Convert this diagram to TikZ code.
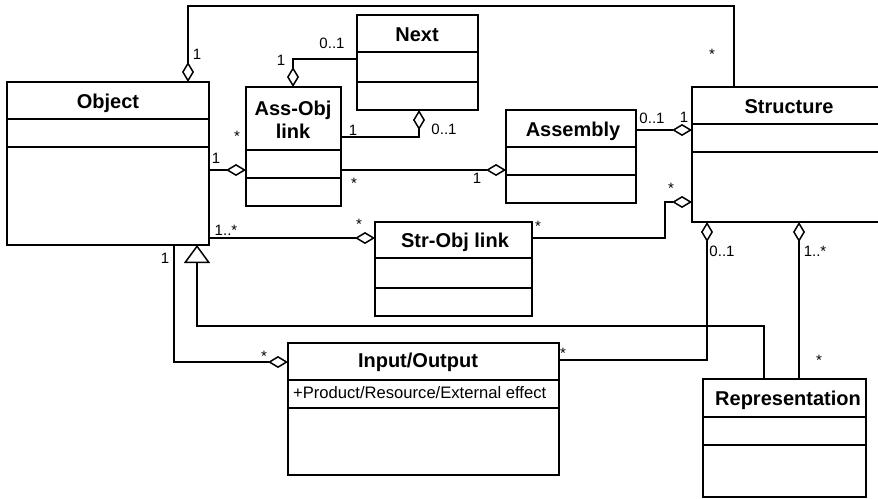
\documentclass[tikz,border=0pt]{standalone}
\usepackage{fontspec}
\setmainfont{Liberation Sans}
\usetikzlibrary{arrows.meta}
\newcommand\sepat[2]{\draw[sep] ([yshift=-#2pt]#1.north west) -- ([yshift=-#2pt]#1.north east);}
\begin{document}
\begin{tikzpicture}[x=1pt,y=-1pt,
  box/.style={draw, line width=1.8pt, inner sep=0pt, outer sep=0pt, anchor=north west},
  sep/.style={line width=1.3pt},
  title/.style={font=\fontsize{20}{23}\selectfont\bfseries, inner sep=0pt},
  lbl/.style={font=\fontsize{15}{17}\selectfont, inner sep=0pt},
  attr/.style={font=\fontsize{16.6}{19}\selectfont, inner sep=0pt, anchor=west},
  con/.style={line width=1.5pt},
  agg/.style={con, -{Diamond[open, length=20pt, width=12pt, line width=1.5pt]}},
  gen/.style={con, -{Triangle[open, length=18pt, width=26pt, line width=1.5pt]}},
]
\useasboundingbox (0,0) rectangle (878,498);
\fill[white] (0,0) rectangle (878,498);

% boxes
\node[box, minimum width=202pt, minimum height=163pt] (obj) at (7,82) {};
\sepat{obj}{37}\sepat{obj}{65}
\node[title] (objT) at (108,103) {Object};

\node[box, minimum width=95pt, minimum height=119pt] (ao) at (246,87) {};
\sepat{ao}{63}\sepat{ao}{91}
\node[title, align=center] (aoT) at (293,120) {Ass-Obj\\link};

\node[box, minimum width=121pt, minimum height=95pt] (nx) at (357,15) {};
\sepat{nx}{37}\sepat{nx}{67}
\node[title] (nxT) at (417,35) {Next};

\node[box, minimum width=130pt, minimum height=93pt] (asm) at (506,110) {};
\sepat{asm}{37}\sepat{asm}{65}
\node[title] (asmT) at (573,131) {Assembly};

\node[box, minimum width=200pt, minimum height=135pt] (str) at (692,87) {};
\sepat{str}{37}\sepat{str}{65}
\node[title] (strT) at (789,107) {Structure};

\node[box, minimum width=157pt, minimum height=94pt] (so) at (375,222) {};
\sepat{so}{36}\sepat{so}{66}
\node[title] (soT) at (455,242) {Str-Obj link};

\node[box, minimum width=271pt, minimum height=132pt] (io) at (288,343) {};
\sepat{io}{37}\sepat{io}{65}
\node[title] (ioT) at (418,362) {Input/Output};
\node[attr] (ioA) at (293,393) {+Product/Resource/External effect};

\node[box, minimum width=163pt, minimum height=118pt] (rep) at (703,379) {};
\sepat{rep}{38}\sepat{rep}{66}
\node[title] (repT) at (788,400) {Representation};

% connectors
\coordinate (c1a) at (734,6); \coordinate (c1b) at (188,6);
\draw[agg] (str.north -| c1a) -- (c1a) -- (c1b) -- (obj.north -| c1b);

\coordinate (c2) at (293,59);
\draw[agg] (nx.west |- c2) -- (c2) -- (ao.north -| c2);

\coordinate (c3) at (419,137);
\draw[agg] (ao.east |- c3) -- (c3) -- (nx.south -| c3);

\coordinate (c4) at (0,170);
\draw[agg] (obj.east |- c4) -- (ao.west |- c4);
\draw[agg] (ao.east |- c4) -- (asm.west |- c4);

\coordinate (c6) at (0,130);
\draw[agg] (asm.east |- c6) -- (str.west |- c6);

\coordinate (c7a) at (665,238); \coordinate (c7b) at (665,202);
\draw[agg] (so.east |- c7a) -- (c7a) -- (c7b) -- (str.west |- c7b);
\draw[agg] (obj.east |- c7a) -- (so.west |- c7a);

\coordinate (c9a) at (764,326); \coordinate (c9b) at (197,326);
\draw[gen] (rep.north -| c9a) -- (c9a) -- (c9b) -- (obj.south -| c9b);

\coordinate (c10) at (174,362);
\draw[agg] (obj.south -| c10) -- (c10) -- (io.west |- c10);

\coordinate (c11) at (707,360);
\draw[agg] (io.east |- c11) -- (c11) -- (str.south -| c11);

\coordinate (c12) at (799,0);
\draw[agg] (rep.north -| c12) -- (str.south -| c12);

% multiplicities
\node[lbl] (m1) at (197,54) {1};
\node[lbl] (m2) at (712,54) {*};
\node[lbl] (m3) at (332,43) {0..1};
\node[lbl] (m4) at (281,60) {1};
\node[lbl] (m5) at (353,130) {1};
\node[lbl] (m6) at (444,129) {0..1};
\node[lbl] (m7) at (237,136) {*};
\node[lbl] (m8) at (216,158) {1};
\node[lbl] (m9) at (354,183) {*};
\node[lbl] (m10) at (477,178) {1};
\node[lbl] (m11) at (652,118) {0..1};
\node[lbl] (m12) at (684,117) {1};
\node[lbl] (m13) at (671,188) {*};
\node[lbl] (m14) at (538,226) {*};
\node[lbl] (m15) at (226,230) {1..*};
\node[lbl] (m16) at (359,224) {*};
\node[lbl] (m17) at (165,258) {1};
\node[lbl] (m18) at (264,356) {*};
\node[lbl] (m19) at (563,353) {*};
\node[lbl] (m20) at (722,251) {0..1};
\node[lbl] (m21) at (815,251) {1..*};
\node[lbl] (m22) at (819,360) {*};
\end{tikzpicture}
\end{document}
